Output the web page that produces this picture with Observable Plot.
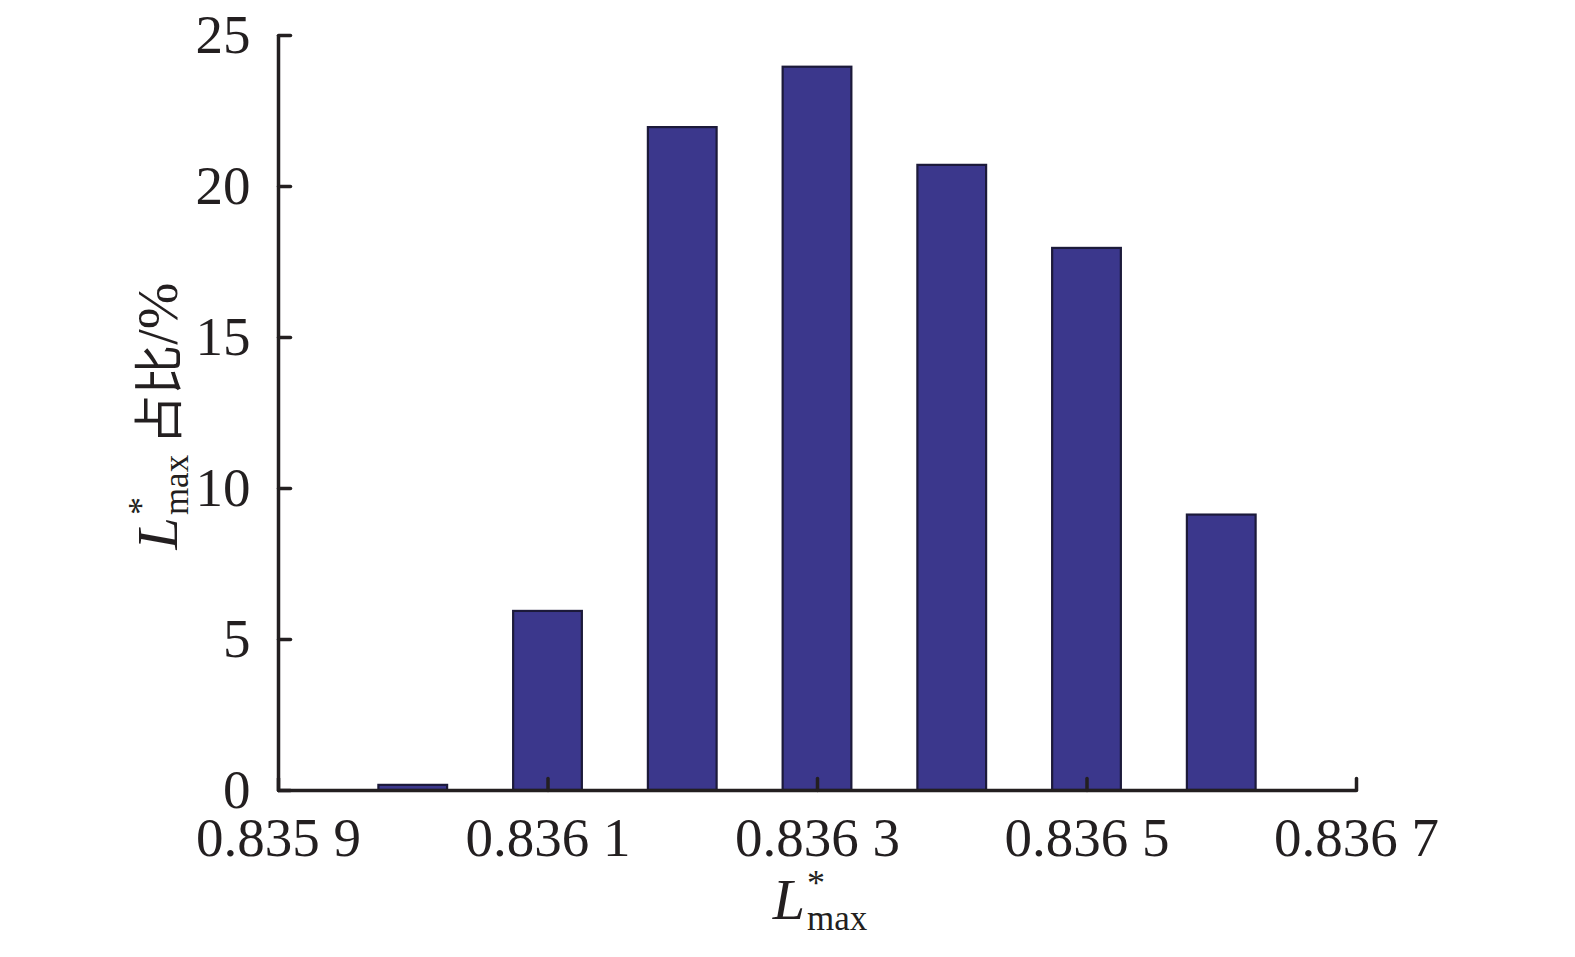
<!DOCTYPE html>
<html><head><meta charset="utf-8">
<script src="https://cdn.jsdelivr.net/npm/d3@7"></script>
<script src="https://cdn.jsdelivr.net/npm/@observablehq/plot@0.6"></script>
<style>body{margin:0;background:#fff} svg{display:block}</style>
</head><body><div id="chart"></div>
<script>
// data
const binCenters = [0.8360, 0.8361, 0.8362, 0.8363, 0.8364, 0.8365, 0.8366];
const shares = [0.17, 5.93, 21.95, 23.95, 20.7, 17.95, 9.12];
const xTicks = [0.8359, 0.8361, 0.8363, 0.8365, 0.8367];
const xTickLabels = ["0.835 9", "0.836 1", "0.836 3", "0.836 5", "0.836 7"];
const yTicks = [0, 5, 10, 15, 20, 25];
const titleSymbol = "L";
const titleSup = "*";
const titleSub = "max";
const yTitleCJK = "占比";
const yTitleUnit = "/%";

const rows = binCenters.map((c, i) => ({c, v: shares[i]}));
const binStep = 0.0001;
const halfW = binStep * 0.255;
const ink = "#231f20";
const serif = "'Liberation Serif', 'Times New Roman', serif";
const tickShape = {draw(ctx, l) { ctx.moveTo(0, 0); ctx.lineTo(0, -l); }};

const chart = Plot.plot({
  width: 1575,
  height: 957,
  marginLeft: 278,
  marginRight: 219,
  marginTop: 35,
  marginBottom: 167,
  style: {fontFamily: serif, background: "#fff", color: ink},
  x: {domain: [xTicks[0], xTicks[xTicks.length - 1]]},
  y: {domain: [yTicks[0], yTicks[yTicks.length - 1]]},
  marks: [
    Plot.rectY(rows, {x1: d => d.c - halfW, x2: d => d.c + halfW, y1: 0, y2: "v",
      fill: "#3b378c", stroke: "#1c1a3a", strokeWidth: 2.2}),
    Plot.ruleY([yTicks[0]], {stroke: ink, strokeWidth: 3.5}),
    Plot.ruleX([xTicks[0]], {stroke: ink, strokeWidth: 3.5}),
    Plot.vector(yTicks, {x: xTicks[0], y: d => d, length: 12, rotate: 90, anchor: "start",
      shape: tickShape, stroke: ink, strokeWidth: 3.5}),
    Plot.vector(xTicks, {x: d => d, y: yTicks[0], length: 12, rotate: 0, anchor: "start",
      shape: tickShape, stroke: ink, strokeWidth: 3.5}),
    Plot.axisX(xTicks, {tickSize: 0, tickPadding: 26, fontSize: 55, fill: ink,
      tickFormat: d => xTickLabels[xTicks.indexOf(d)], label: null}),
    Plot.axisY(yTicks, {tickSize: 0, tickPadding: 28, fontSize: 55, fill: ink, label: null})
  ]
});
document.getElementById("chart").appendChild(chart);

const svg = d3.select(chart);
function addTitle(g, withTail) {
  g.append("tspan").attr("font-style", "italic").attr("font-size", 58).text(titleSymbol);
  g.append("tspan").attr("font-size", 36).attr("dy", -24).attr("dx", 2).text(titleSup);
  g.append("tspan").attr("font-size", 35).attr("dy", 35).attr("dx", -18).text(titleSub);
  if (withTail) {
    g.append("tspan").attr("font-size", 50).attr("dy", -11).attr("dx", 10)
      .attr("font-family", "'Noto Sans CJK SC', 'Liberation Serif', serif").text(yTitleCJK);
    g.append("tspan").attr("font-size", 56).text(yTitleUnit);
  }
}
const xt = svg.append("text").attr("x", 820).attr("y", 919).attr("text-anchor", "middle")
  .attr("fill", ink).attr("font-family", serif);
addTitle(xt, false);
const yt = svg.append("text").attr("transform", "translate(177,416) rotate(-90)")
  .attr("text-anchor", "middle").attr("fill", ink).attr("font-family", serif);
addTitle(yt, true);
</script>
</body></html>
